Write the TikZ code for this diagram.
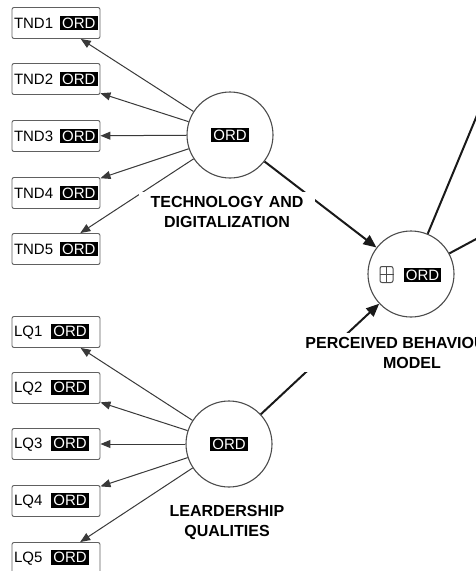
\documentclass[tikz,border=0pt]{standalone}
\usepackage{fontspec}
\setmainfont{Liberation Sans}
\usetikzlibrary{arrows.meta}
\newcommand{\ordtag}{{\setlength{\fboxsep}{2pt}\colorbox{black}{\textcolor{white}{ORD}}}}
\begin{document}
\begin{tikzpicture}[x=1pt,y=-1pt,
  ind/.style={draw=gray!75!black, line width=0.9pt, rounded corners=2pt, minimum height=31pt,
    text width=84pt, align=left, inner xsep=2pt, inner ysep=0pt, fill=white, font=\fontsize{15}{18}\selectfont},
  lv/.style={circle, draw=gray!60!black, line width=1.1pt, minimum size=86pt, inner sep=0pt,
    fill=white, font=\fontsize{15}{18}\selectfont},
  lbl/.style={fill=white, align=center, font=\fontsize{16}{20}\selectfont\bfseries, inner sep=4pt},
  outarrow/.style={-{Triangle[length=10pt,width=8pt]}, draw=gray!45!black, line width=1pt},
  patharrow/.style={-{Triangle[length=13pt,width=11pt]}, draw=black!90, line width=2pt},
  pathline/.style={draw=black!90, line width=2pt}
]
\useasboundingbox (0,0) rectangle (476,571);

% latent variables
\node[lv] (tnd) at (230,135) {\ordtag};
\node[lv] (lq) at (229,444) {\ordtag};
\node[lv] (pbm) at (411,274) {};
\node[draw=gray!60!black, line width=1pt, rounded corners=2pt, minimum width=13pt,
  minimum height=16pt, inner sep=0pt] (pbmicon) at (386.5,274.5) {};
\draw[gray!60!black, line width=1pt] (pbmicon.north) -- (pbmicon.south)
  (pbmicon.west) -- (pbmicon.east);
\node[inner sep=0pt, font=\fontsize{15}{18}\selectfont] (pbmord) at (422.5,275) {\ordtag};

% indicators
\node[ind] (tnd1) at (56,23) {TND1\hspace{7pt}\ordtag};
\node[ind] (tnd2) at (56,79) {TND2\hspace{7pt}\ordtag};
\node[ind] (tnd3) at (56,136) {TND3\hspace{7pt}\ordtag};
\node[ind] (tnd4) at (56,193) {TND4\hspace{7pt}\ordtag};
\node[ind] (tnd5) at (56,249) {TND5\hspace{7pt}\ordtag};
\node[ind] (lq1) at (56,332) {LQ1\hspace{9pt}\ordtag};
\node[ind] (lq2) at (56,388) {LQ2\hspace{9pt}\ordtag};
\node[ind] (lq3) at (56,444) {LQ3\hspace{9pt}\ordtag};
\node[ind] (lq4) at (56,501) {LQ4\hspace{9pt}\ordtag};
\node[ind] (lq5) at (56,558) {LQ5\hspace{9pt}\ordtag};

% outer loadings
\foreach \i in {1,...,5} {
  \draw[outarrow] (tnd) -- (tnd\i);
  \draw[outarrow] (lq) -- (lq\i);
}

% structural paths
\coordinate (off1) at (500,60);
\coordinate (off2) at (560,194);
\draw[patharrow] (tnd) -- (pbm);
\draw[patharrow] (lq) -- (pbm);
\draw[pathline] (pbm) -- (off1);
\draw[pathline] (pbm) -- (off2);

% labels
\node[lbl, text width=168pt] (tndlbl) at (227,212) {TECHNOLOGY AND\\DIGITALIZATION};
\node[lbl] (lqlbl) at (227,522) {LEARDERSHIP\\QUALITIES};
\node[lbl] (pbmlbl) at (412,352.5) {PERCEIVED BEHAVIOURAL\\MODEL};
\end{tikzpicture}
\end{document}
